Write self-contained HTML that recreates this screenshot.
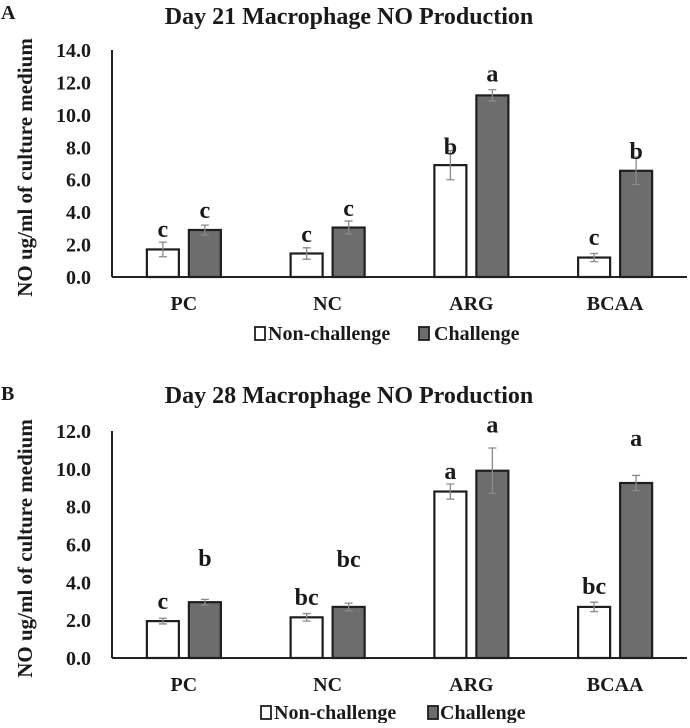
<!DOCTYPE html>
<html><head><meta charset="utf-8"><style>
body{margin:0;background:#fff;}
svg text{font-family:"Liberation Serif",serif;font-weight:bold;fill:#1a1a1a;}
</style></head><body>
<svg id="svg" width="690" height="723" xmlns="http://www.w3.org/2000/svg"></svg>
<script>
const categories=["PC","NC","ARG","BCAA"];
const seriesNames=["Non-challenge","Challenge"];
// Chart A (Day 21)
const aNon=[1.7,1.45,6.9,1.2];
const aNonErr=[0.45,0.35,0.9,0.25];
const aCh=[2.9,3.05,11.2,6.55];
const aChErr=[0.3,0.4,0.35,0.85];
const aNonLetters=["c","c","b","c"];
const aChLetters=["c","c","a","b"];
const aNonLetterY=[2.9,2.6,8.0,2.4];
const aChLetterY=[4.07,4.2,12.5,7.7];
const aTicks=[0,2,4,6,8,10,12,14];
// Chart B (Day 28)
const bNon=[1.95,2.15,8.8,2.7];
const bNonErr=[0.15,0.2,0.4,0.25];
const bCh=[2.95,2.7,9.9,9.25];
const bChErr=[0.15,0.2,1.2,0.4];
const bNonLetters=["c","bc","a","bc"];
const bChLetters=["b","bc","a","a"];
const bNonLetterY=[2.96,3.17,9.83,3.75];
const bChLetterY=[5.23,5.18,12.3,11.57];
const bTicks=[0,2,4,6,8,10,12];

const NS="http://www.w3.org/2000/svg";
const svg=document.getElementById('svg');
function mk(tag,attrs,parent,txt){const e=document.createElementNS(NS,tag);for(const k in attrs)e.setAttribute(k,attrs[k]);if(txt!==undefined)e.textContent=txt;(parent||svg).appendChild(e);return e;}

function chart(cfg){
  const g=mk('g',{});
  
  
  const x0=112,x1=687,base=cfg.base,top=cfg.top,max=cfg.max;
  const y=v=>base-(v/max)*(base-top);
  const bw=(x1-x0)/categories.length;
  const t=mk('text',{x:349,y:cfg.titleY,'text-anchor':'middle','font-size':24},g,cfg.title);
  
  
  const p=mk('text',{x:1,y:cfg.panelY,'font-size':20},g,cfg.panel);
  
  
  const yt=mk('text',{x:0,y:0,'text-anchor':'middle','font-size':21,transform:`translate(32,${(base+top)/2+4}) rotate(-90)`},g,'NO ug/ml of culture medium');
  
  
  cfg.ticks.forEach(v=>{
    const tl=mk('text',{x:91,y:y(v)+7,'text-anchor':'end','font-size':20},g,v.toFixed(1));
    
    
  });
  const ax=mk('line',{x1:x0,y1:top,x2:x0,y2:base,stroke:'#222','stroke-width':2},g);
  
  
  const bx=mk('line',{x1:x0,y1:base,x2:x1,y2:base,stroke:'#222','stroke-width':2},g);
  
  
  const sets=[[cfg.non,cfg.nonErr,cfg.nonL,cfg.nonLY,'#fff',-1],[cfg.ch,cfg.chErr,cfg.chL,cfg.chLY,'#6d6d6d',1]];
  categories.forEach((c,i)=>{
    const cx=x0+bw*(i+0.5);
    const cl=mk('text',{x:cx,y:cfg.catY,'text-anchor':'middle','font-size':20},g,c);
    
    
    sets.forEach(([vals,errs,lets,ly,fill,side],s)=>{
      const bc=cx+side*21;
      const r=mk('rect',{x:bc-16,y:y(vals[i]),width:32,height:base-y(vals[i]),fill:fill,stroke:'#1e1e1e','stroke-width':2.2},g);
      
      
      const eh=mk('path',{d:`M${bc},${y(vals[i]+errs[i])}V${y(vals[i]-errs[i])}M${bc-4},${y(vals[i]+errs[i])}H${bc+4}M${bc-4},${y(vals[i]-errs[i])}H${bc+4}`,stroke:'#8a8a8a','stroke-width':1.3,fill:'none'},g);
      
      
      const lt=mk('text',{x:bc,y:y(ly[i])+7,'text-anchor':'middle','font-size':24},g,lets[i]);
      
      
    });
  });
  const lg=mk('g',{},g);
  
  
  const L=cfg.leg;
  const s1=mk('rect',{x:L[0],y:cfg.legY-13,width:10,height:13,fill:'#fff',stroke:'#1e1e1e','stroke-width':1.8},lg);
  
  
  const t1=mk('text',{x:L[1],y:cfg.legY,'font-size':20},lg,seriesNames[0]);
  
  
  const s2=mk('rect',{x:L[2],y:cfg.legY-13,width:10,height:13,fill:'#6d6d6d',stroke:'#1e1e1e','stroke-width':1.8},lg);
  
  
  const t2=mk('text',{x:L[3],y:cfg.legY,'font-size':20},lg,seriesNames[1]);
  
  
}
chart({id:'chart-day21',title:'Day 21 Macrophage NO Production',panel:'A',panelY:19,titleY:24,base:277,top:50,max:14,ticks:aTicks,catY:310,legY:340,leg:[255,268,419,434],
  non:aNon,nonErr:aNonErr,nonL:aNonLetters,nonLY:aNonLetterY,ch:aCh,chErr:aChErr,chL:aChLetters,chLY:aChLetterY});
chart({id:'chart-day28',title:'Day 28 Macrophage NO Production',panel:'B',panelY:400,titleY:403,base:658,top:431,max:12,ticks:bTicks,catY:691,legY:719,leg:[261,274,428,440],
  non:bNon,nonErr:bNonErr,nonL:bNonLetters,nonLY:bNonLetterY,ch:bCh,chErr:bChErr,chL:bChLetters,chLY:bChLetterY});
</script>
</body></html>
